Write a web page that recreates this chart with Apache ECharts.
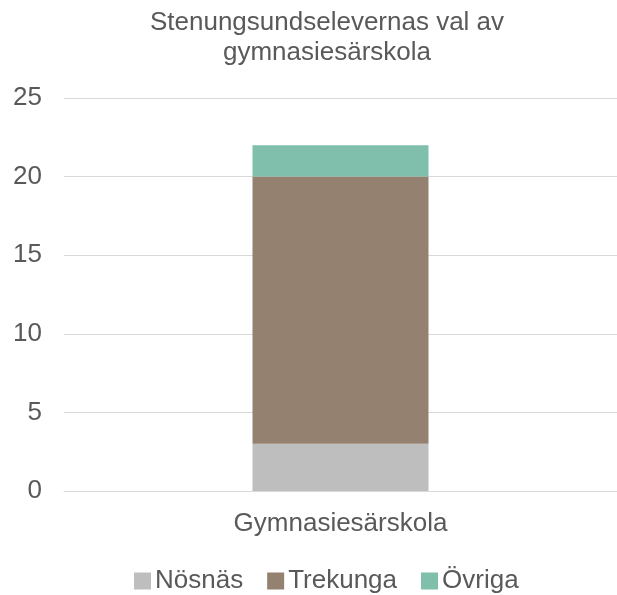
<!DOCTYPE html>
<html>
<head>
<meta charset="utf-8">
<script src="https://cdn.jsdelivr.net/npm/echarts@6/dist/echarts.min.js"></script>
<style>
  html, body { margin: 0; padding: 0; background: #fff; }
  #chart { width: 617px; height: 595px; }
</style>
</head>
<body>
<div id="chart"></div>
<script>
var categories = ["Gymnasiesärskola"];
var seriesNames = ["Nösnäs", "Trekunga", "Övriga"];
var nosnas = [3];
var trekunga = [17];
var ovriga = [2];
var yTicks = [0, 5, 10, 15, 20, 25];

var colors = ["#BFBEBE", "#948170", "#7FBFAB"];
var values = [nosnas, trekunga, ovriga];
var font = "Liberation Sans, Arial, sans-serif";

var make_series = function () {
  var result = [];
  seriesNames.forEach(function (name, idx) {
    result.push({
      name: name,
      type: "bar",
      stack: "total",
      data: values[idx],
      barWidth: 176,
      itemStyle: { color: colors[idx] },
      emphasis: { disabled: true }
    });
  });
  return result;
};

var option = {
  animation: false,
  textStyle: { fontFamily: font, color: "#595959" },
  title: {
    text: "Stenungsundselevernas val av\ngymnasiesärskola",
    left: 322,
    textAlign: "center",
    top: 3,
    textStyle: { fontSize: 26, fontWeight: "normal", color: "#595959", lineHeight: 30, fontFamily: font }
  },
  legend: {
    data: seriesNames,
    top: 563,
    left: 129,
    itemWidth: 17,
    itemHeight: 17,
    itemGap: 24,
    icon: "rect",
    textStyle: { fontSize: 26, color: "#595959", fontFamily: font, padding: [0, 0, 0, -1] }
  },
  grid: { left: 64, right: 0, top: 98, bottom: 104, containLabel: false },
  xAxis: {
    type: "category",
    data: categories,
    axisLine: { lineStyle: { color: "#D9D9D9", width: 1 } },
    axisTick: { show: false },
    axisLabel: { fontSize: 26, color: "#595959", margin: 20, fontFamily: font }
  },
  yAxis: {
    type: "value",
    min: yTicks[0],
    max: yTicks[yTicks.length - 1],
    interval: 5,
    axisLine: { show: false },
    axisTick: { show: false },
    splitLine: { lineStyle: { color: "#D9D9D9", width: 1 } },
    axisLabel: { fontSize: 26, color: "#595959", margin: 22, fontFamily: font }
  },
  series: make_series()
};

var chart = echarts.init(document.getElementById("chart"));
chart.setOption(option);
</script>
</body>
</html>
